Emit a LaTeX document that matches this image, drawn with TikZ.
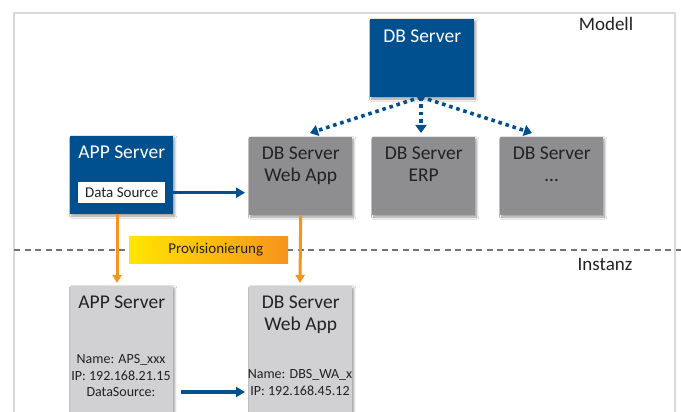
\documentclass[tikz,border=0pt]{standalone}
\usepackage{fontspec}
\setmainfont{Carlito}
\usetikzlibrary{arrows.meta,shadows.blur,positioning}
\definecolor{dblue}{HTML}{00508F}
\definecolor{dgray}{HTML}{8E8E91}
\definecolor{lgray}{HTML}{D1D1D3}
\definecolor{orng}{HTML}{F7941D}
\definecolor{ylw}{HTML}{FFE500}
\definecolor{txt}{HTML}{222222}
\tikzset{
  shad/.style={blur shadow={shadow blur steps=6, shadow xshift=1.5pt, shadow yshift=-1.8pt, shadow blur radius=2.2pt, shadow opacity=40}},
  bluebox/.style={fill=dblue, draw=none, shad, anchor=north west, minimum width=103pt, minimum height=78pt, inner sep=0pt},
  graybox/.style={fill=dgray, draw=none, shad, anchor=north west, minimum width=103pt, minimum height=78pt, inner sep=0pt},
  lightbox/.style={fill=lgray, draw=none, shad, anchor=north west, minimum width=103pt, minimum height=130pt, inner sep=0pt},
  title/.style={font=\fontsize{19.5}{22}\selectfont, align=center, inner sep=0pt, anchor=north},
  small/.style={font=\fontsize{14}{16.8}\selectfont, align=center, inner sep=0pt, text=txt},
  bluearrow/.style={draw=dblue, line width=3.4pt, -{Triangle[length=9pt,width=10pt]}},
  dotarrow/.style={draw=dblue, line width=3.6pt, dash pattern=on 3.6pt off 3.8pt, -{Triangle[length=8pt,width=11pt]}},
  orarrow/.style={draw=orng, line width=3pt, -{Triangle[length=8pt,width=9pt]}},
  lbl/.style={font=\fontsize{19}{22}\selectfont, text=txt, inner sep=0pt},
}
\begin{document}
\begin{tikzpicture}[x=1pt,y=-1pt]
\useasboundingbox (0,0) rectangle (681,412);
\clip (0,0) rectangle (681,412);
\fill[white] (0,0) rectangle (681,412);
\draw[draw=black!15, line width=1.2pt] (14,13) rectangle (675,440);

% dashed separator
\coordinate (dl) at (14,250);
\coordinate (dr) at (681,250);
\draw[draw=black!55, line width=1.1pt, dash pattern=on 6pt off 4.5pt] (dl) -- (dr);

% labels
\node[lbl, anchor=center] (modell) at (606,24) {Modell};
\node[lbl, anchor=center] (instanz) at (605,264) {Instanz};

% top DB Server
\node[bluebox, minimum width=104pt] (db) at (370,19) {};
\node[title, text=white] (dbt) at ([yshift=-11pt]db.north) {DB Server};

% Model row
\node[bluebox] (app) at (70,136) {};
\node[title, text=white] (appt) at ([yshift=-10pt]app.north) {APP Server};
\node[fill=white, minimum width=87pt, minimum height=21pt, inner sep=0pt, anchor=north west, font=\fontsize{15}{17}\selectfont, text=txt] (ds) at (78,182) {Data Source};

\node[graybox] (wa) at (249,137) {};
\node[title, text=txt] (wat) at ([yshift=-10pt]wa.north) {DB Server\\Web App};

\node[graybox] (erp) at (372,137) {};
\node[title, text=txt] (erpt) at ([yshift=-10pt]erp.north) {DB Server\\ERP};

\node[graybox] (etc) at (500,137) {};
\node[title, text=txt] (etct) at ([yshift=-10pt]etc.north) {DB Server\\\dots};

% instance row
\node[lightbox] (iapp) at (70,286) {};
\node[title, text=txt] (iappt) at ([yshift=-10pt]iapp.north) {APP Server};
\node[small, anchor=north] (iappd) at (121,354) {Name: APS\_xxx\\IP: 192.168.21.15\\DataSource:};

\node[lightbox] (iwa) at (249,286) {};
\node[title, text=txt] (iwat) at ([yshift=-10pt]iwa.north) {DB Server\\Web App};
\node[small, anchor=north] (iwad) at (300,369) {Name: DBS\_WA\_x\\IP: 192.168.45.12};

% provisioning label
\node[left color=ylw, right color=orng, minimum width=159pt, minimum height=27pt, inner sep=0pt, anchor=north west, font=\fontsize{15}{17}\selectfont, text=txt] (prov) at (129,236) {\hspace*{14pt}Provisionierung};

% connectors
\coordinate (dbs) at (421,97);
\coordinate (t1) at (310,133);
\coordinate (t2) at (421,133);
\coordinate (t3) at (532,133);
\draw[dotarrow] (dbs) -- (t1);
\draw[dotarrow] (dbs) -- (t2);
\draw[dotarrow] (dbs) -- (t3);

\draw[bluearrow] (app.east |- ds.east) -- ([xshift=-4pt]ds.east -| wa.west);

\draw[orarrow] (app.south -| 117,0) -- (117,283);
\draw[orarrow] (wa.south) -- (300,283);

\coordinate (ba) at (181,392);
\draw[bluearrow] (ba) -- (245,392);
\end{tikzpicture}
\end{document}
